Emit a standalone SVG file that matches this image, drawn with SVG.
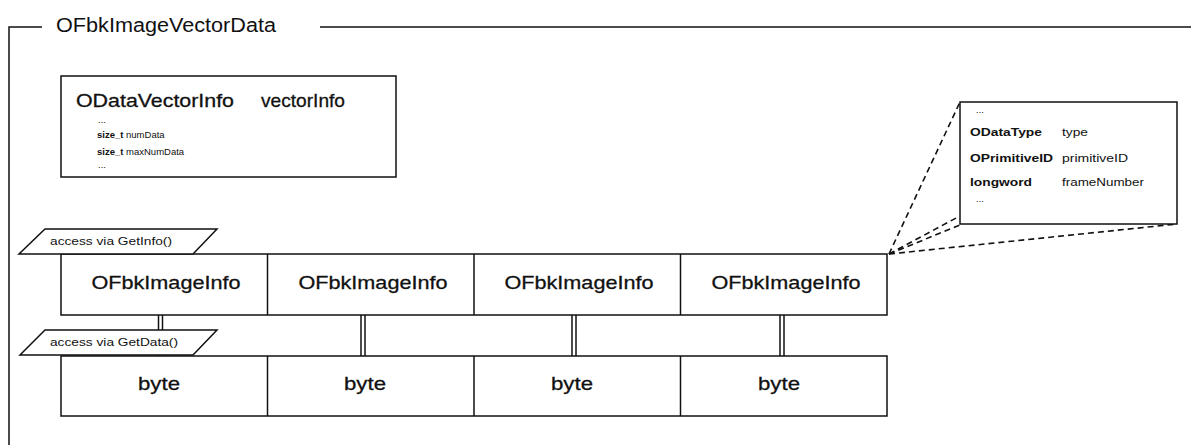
<svg xmlns="http://www.w3.org/2000/svg" width="1191" height="445" viewBox="0 0 1191 445">
<style>
.ln{stroke:#111;stroke-width:1.5;fill:none}
.box{stroke:#111;stroke-width:1.5;fill:#fff}
.t{font-family:"Liberation Sans",Arial,sans-serif;fill:#111}
.big{font-size:19px;stroke:#111;stroke-width:0.3}
.sm{font-size:9.5px}
.lab{font-size:11px}
.rb{font-size:11px}
.dash{stroke:#111;stroke-width:1.6;fill:none;stroke-dasharray:6 4}
</style>
<rect width="1191" height="445" fill="#fff"/>
<g id="frame">
<polyline class="ln" points="42,27 9,27 9,445"/>
<line class="ln" x1="320" y1="27" x2="1191" y2="27"/>
<text class="t" x="56" y="32" font-size="20" textLength="220" lengthAdjust="spacingAndGlyphs">OFbkImageVectorData</text>
</g>
<g id="vectorInfo">
<rect class="box" x="61" y="76" width="335" height="101"/>
<text class="t big" x="76" y="107" textLength="158" lengthAdjust="spacingAndGlyphs">ODataVectorInfo</text>
<text class="t big" x="261" y="107" textLength="84" lengthAdjust="spacingAndGlyphs">vectorInfo</text>
<text class="t sm" x="98" y="123">...</text>
<text class="t sm" x="97" y="138"><tspan font-weight="bold">size_t</tspan> numData</text>
<text class="t sm" x="97" y="155"><tspan font-weight="bold">size_t</tspan> maxNumData</text>
<text class="t sm" x="98" y="168">...</text>
</g>
<g id="connectors">
<line class="dash" x1="889" y1="254" x2="960" y2="102"/>
<line class="dash" x1="889" y1="254" x2="958" y2="217"/>
<line class="dash" x1="889" y1="254" x2="960" y2="225"/>
<line class="dash" x1="889" y1="254" x2="1177" y2="224"/>
<g class="ln">
<line x1="158.5" y1="315" x2="158.5" y2="356"/><line x1="162.5" y1="315" x2="162.5" y2="356"/>
<line x1="361" y1="315" x2="361" y2="356"/><line x1="365" y1="315" x2="365" y2="356"/>
<line x1="572" y1="315" x2="572" y2="356"/><line x1="576" y1="315" x2="576" y2="356"/>
<line x1="780" y1="315" x2="780" y2="356"/><line x1="784" y1="315" x2="784" y2="356"/>
</g>
</g>
<g id="primitiveInfo">
<rect class="box" x="960" y="102" width="217" height="122"/>
<text class="t sm" x="976" y="113">...</text>
<text class="t rb" x="970" y="136" font-weight="bold" textLength="72" lengthAdjust="spacingAndGlyphs">ODataType</text>
<text class="t rb" x="1062" y="136" textLength="26" lengthAdjust="spacingAndGlyphs">type</text>
<text class="t rb" x="970" y="162" font-weight="bold" textLength="83" lengthAdjust="spacingAndGlyphs">OPrimitiveID</text>
<text class="t rb" x="1062" y="162" textLength="66" lengthAdjust="spacingAndGlyphs">primitiveID</text>
<text class="t rb" x="970" y="186" font-weight="bold" textLength="62" lengthAdjust="spacingAndGlyphs">longword</text>
<text class="t rb" x="1062" y="186" textLength="82" lengthAdjust="spacingAndGlyphs">frameNumber</text>
<text class="t sm" x="976" y="202">...</text>
</g>
<g id="infoRow">
<rect class="box" x="61" y="254" width="826" height="61"/>
<line class="ln" x1="267.5" y1="254" x2="267.5" y2="315"/>
<line class="ln" x1="474" y1="254" x2="474" y2="315"/>
<line class="ln" x1="680.5" y1="254" x2="680.5" y2="315"/>
<text class="t big" x="166" y="289" text-anchor="middle" textLength="149" lengthAdjust="spacingAndGlyphs">OFbkImageInfo</text>
<text class="t big" x="373" y="289" text-anchor="middle" textLength="149" lengthAdjust="spacingAndGlyphs">OFbkImageInfo</text>
<text class="t big" x="579" y="289" text-anchor="middle" textLength="149" lengthAdjust="spacingAndGlyphs">OFbkImageInfo</text>
<text class="t big" x="786" y="289" text-anchor="middle" textLength="149" lengthAdjust="spacingAndGlyphs">OFbkImageInfo</text>
</g>
<g id="byteRow">
<rect class="box" x="61" y="356" width="826" height="60"/>
<line class="ln" x1="267.5" y1="356" x2="267.5" y2="416"/>
<line class="ln" x1="474" y1="356" x2="474" y2="416"/>
<line class="ln" x1="680.5" y1="356" x2="680.5" y2="416"/>
<text class="t big" x="159" y="390" text-anchor="middle" textLength="42" lengthAdjust="spacingAndGlyphs">byte</text>
<text class="t big" x="365" y="390" text-anchor="middle" textLength="42" lengthAdjust="spacingAndGlyphs">byte</text>
<text class="t big" x="572" y="390" text-anchor="middle" textLength="42" lengthAdjust="spacingAndGlyphs">byte</text>
<text class="t big" x="779" y="390" text-anchor="middle" textLength="42" lengthAdjust="spacingAndGlyphs">byte</text>
</g>
<g id="getInfo">
<polygon class="box" points="45,229 217,229 193,254 19,254"/>
<text class="t lab" x="50" y="245" textLength="122" lengthAdjust="spacingAndGlyphs">access via GetInfo()</text>
</g>
<g id="getData">
<polygon class="box" points="45,330 217,330 193,355 20,355"/>
<text class="t lab" x="50" y="346" textLength="128" lengthAdjust="spacingAndGlyphs">access via GetData()</text>
</g>
</svg>
